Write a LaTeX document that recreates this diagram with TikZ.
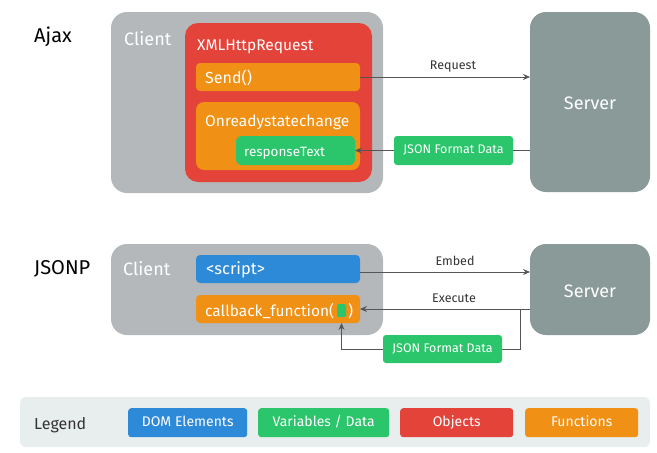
\documentclass[tikz,border=0pt]{standalone}
\usepackage{fontspec}
\setmainfont{Fira Sans}
\usetikzlibrary{arrows.meta}
\definecolor{cgrey}{HTML}{B4B8BA}
\definecolor{cred}{HTML}{E4433A}
\definecolor{corange}{HTML}{F09014}
\definecolor{cgreen}{HTML}{2BC56B}
\definecolor{cblue}{HTML}{2D8AD8}
\definecolor{cserver}{HTML}{8A9A98}
\definecolor{clegend}{HTML}{E8EDED}
\definecolor{carrow}{HTML}{555555}
\definecolor{clabel}{HTML}{333333}
\newcommand\rbox[7]{\node[rbx, fill=#6, rounded corners=#7, minimum width=#4pt, minimum height=#5pt] (#1) at (#2,#3) {};}
\begin{document}
\begin{tikzpicture}[x=1pt,y=-1pt,
  rbx/.style={draw=none, inner sep=0pt, outer sep=0pt, anchor=north west},
  wtxt/.style={text=white, inner sep=0pt, anchor=base west},
  ctxt/.style={text=white, inner sep=0pt, anchor=base},
  head/.style={text=black, inner sep=0pt, anchor=base west, font=\fontsize{20}{24}\selectfont},
  lbl/.style={text=clabel, inner sep=0pt, anchor=base, font=\fontsize{12.5}{15}\selectfont},
  conn/.style={draw=carrow, line width=0.8pt},
  arr/.style={conn, -{Stealth[length=7pt,width=6pt,inset=2.5pt]}},
  datalbl/.style={fill=cgreen, rounded corners=3pt, text=white, inner sep=0pt, text height=9pt, text depth=2.5pt, font=\fontsize{12.5}{15}\selectfont},
  legitem/.style={rounded corners=3pt, text=white, inner sep=0pt, anchor=north west, minimum height=29pt, text height=10pt, text depth=2pt, font=\fontsize{14}{17}\selectfont},
]
\useasboundingbox (0,0) rectangle (657,453);

% ---------- Ajax ----------
\node[head] (ajaxt) at (34,42.5) {Ajax};
\rbox{client1}{111}{12}{272}{181}{cgrey}{16pt}
\node[wtxt, font=\fontsize{18}{21}\selectfont] (client1t) at (124,45) {Client};
\rbox{xhr}{185}{23}{187}{159}{cred}{13pt}
\node[wtxt, font=\fontsize{15.5}{19}\selectfont] (xhrt) at (197,50.7) {XMLHttpRequest};
\rbox{send}{196}{63}{164}{28}{corange}{4pt}
\node[wtxt, font=\fontsize{16}{19}\selectfont] (sendt) at (205,83) {Send()};
\rbox{onready}{196}{102}{164}{68}{corange}{8pt}
\node[wtxt, font=\fontsize{15.5}{19}\selectfont] (onreadyt) at (205,126) {Onreadystatechange};
\rbox{resp}{236}{136}{119}{29}{cgreen}{5pt}
\node[wtxt, font=\fontsize{13.5}{17}\selectfont] (respt) at (244,156) {responseText};
\rbox{server1}{530}{12}{120}{180}{cserver}{16pt}
\node[ctxt, font=\fontsize{18}{21}\selectfont] (server1t) at (590,109) {Server};

\node[datalbl, minimum width=119pt, minimum height=29pt] (json1) at (453.5,150.5) {JSON Format Data};
\draw[arr] (send.east) -- (send.east -| server1.west);
\node[lbl] (reqt) at (453,69) {Request};
\draw[conn] (json1.east -| server1.west) -- (json1.east);
\draw[arr] (json1.west) -- (resp.east);

% ---------- JSONP ----------
\node[head] (jsonpt) at (34,274) {JSONP};
\rbox{client2}{111}{244}{272}{91}{cgrey}{16pt}
\node[wtxt, font=\fontsize{18}{21}\selectfont] (client2t) at (123,275) {Client};
\rbox{script}{196}{255}{164}{28}{cblue}{4pt}
\node[wtxt, font=\fontsize{16.5}{19}\selectfont] (scriptt) at (206,274.5) {<script>};
\rbox{callback}{196}{295}{164}{28}{corange}{4pt}
\node[wtxt, font=\fontsize{15.5}{19}\selectfont] (callbackt) at (205,316) {callback\_function(};
\rbox{cbdata}{337}{304}{9}{13}{cgreen}{1.5pt}
\node[wtxt, font=\fontsize{15.5}{19}\selectfont] (cbclose) at ([xshift=2pt]cbdata.east |- 0,316) {)};
\rbox{server2}{530}{244}{120}{91}{cserver}{16pt}
\node[ctxt, font=\fontsize{18}{21}\selectfont] (server2t) at (590,297) {Server};

\draw[arr] (script.east |- 0,272) -- (server2.west |- 0,272);
\node[lbl] (embedt) at (455,265) {Embed};
\draw[arr] (callback.east -| server2.west) -- (callback.east);
\node[lbl] (executet) at (454,302) {Execute};

\node[datalbl, minimum width=119pt, minimum height=28pt] (json2) at (442.5,349) {JSON Format Data};
\coordinate (tap) at (520,309);
\draw[conn] (tap) |- (json2.east);
\draw[arr] (json2.west) -| (cbdata.south |- callback.south);

% ---------- Legend ----------
\rbox{legend}{20}{397}{630}{50}{clegend}{6pt}
\node[text=clabel, inner sep=0pt, anchor=base west, font=\fontsize{16}{19}\selectfont] (legendt) at (34,429) {Legend};
\node[legitem, fill=cblue, minimum width=119pt] (ldom) at (128,408) {DOM Elements};
\node[legitem, fill=cgreen, minimum width=131pt] (lvar) at (258,408) {Variables / Data};
\node[legitem, fill=cred, minimum width=113pt] (lobj) at (400,408) {Objects};
\node[legitem, fill=corange, minimum width=113pt] (lfun) at (525,408) {Functions};
\end{tikzpicture}
\end{document}
